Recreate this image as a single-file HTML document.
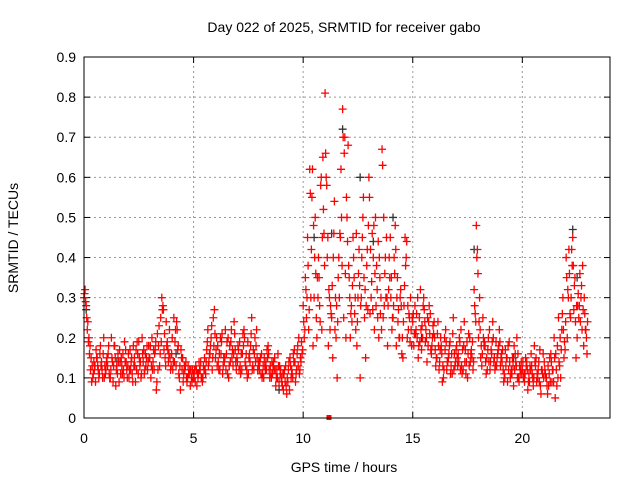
<!DOCTYPE html>
<html><head><meta charset="utf-8"><style>
body{margin:0;background:#fff}
svg{display:block;font-family:"Liberation Sans",sans-serif}
</style></head><body>
<svg id="chart" width="640" height="480">
<text x="344" y="32" font-size="14" text-anchor="middle">Day 022 of 2025, SRMTID for receiver gabo</text>
<text x="344" y="472" font-size="14" text-anchor="middle">GPS time / hours</text>
<text transform="translate(18,238) rotate(-90)" font-size="14" text-anchor="middle">SRMTID / TECUs</text>
<g id="grid"></g><g id="axes"></g><g id="marks"></g>
<rect x="84" y="57" width="526" height="361" fill="none" stroke="#000" stroke-width="1"/>
</svg>
<script>
const xTicks=[0,5,10,15,20];
const yTicks=[0,0.1,0.2,0.3,0.4,0.5,0.6,0.7,0.8,0.9];
const yTickLabels=["0","0.1","0.2","0.3","0.4","0.5","0.6","0.7","0.8","0.9"];
const times=[0,0.1,0.2,0.3,0.4,0.5,0.6,0.7,0.8,0.9,1,1.1,1.2,1.3,1.4,1.5,1.6,1.7,1.8,1.9,2,2.1,2.2,2.3,2.4,2.5,2.6,2.7,2.8,2.9,3,3.1,3.2,3.3,3.4,3.5,3.6,3.7,3.8,3.9,4,4.1,4.2,4.3,4.4,4.5,4.6,4.7,4.8,4.9,5,5.1,5.2,5.3,5.4,5.5,5.6,5.7,5.8,5.9,6,6.1,6.2,6.3,6.4,6.5,6.6,6.7,6.8,6.9,7,7.1,7.2,7.3,7.4,7.5,7.6,7.7,7.8,7.9,8,8.1,8.2,8.3,8.4,8.5,8.6,8.7,8.8,8.9,9,9.1,9.2,9.3,9.4,9.5,9.6,9.7,9.8,9.9,10,10.1,10.2,10.3,10.4,10.5,10.6,10.7,10.8,10.9,11,11.1,11.2,11.3,11.4,11.5,11.6,11.7,11.8,11.9,12,12.1,12.2,12.3,12.4,12.5,12.6,12.7,12.8,12.9,13,13.1,13.2,13.3,13.4,13.5,13.6,13.7,13.8,13.9,14,14.1,14.2,14.3,14.4,14.5,14.6,14.7,14.8,14.9,15,15.1,15.2,15.3,15.4,15.5,15.6,15.7,15.8,15.9,16,16.1,16.2,16.3,16.4,16.5,16.6,16.7,16.8,16.9,17,17.1,17.2,17.3,17.4,17.5,17.6,17.7,17.8,17.9,18,18.1,18.2,18.3,18.4,18.5,18.6,18.7,18.8,18.9,19,19.1,19.2,19.3,19.4,19.5,19.6,19.7,19.8,19.9,20,20.1,20.2,20.3,20.4,20.5,20.6,20.7,20.8,20.9,21,21.1,21.2,21.3,21.4,21.5,21.6,21.7,21.8,21.9,22,22.1,22.2,22.3,22.4,22.5,22.6,22.7,22.8,22.9];
const srmtidA=[.30,.28,.19,.12,.10,.13,.15,.11,.14,.20,.12,.16,.10,.14,.18,.13,.09,.15,.12,.17,.13,.17,.11,.15,.12,.19,.10,.14,.16,.12,.15,.20,.12,.07,.18,.25,.28,.15,.19,.22,.16,.25,.13,.18,.07,.15,.12,.09,.11,.10,.11,.13,.10,.12,.09,.15,.17,.14,.20,.25,.15,.18,.12,.21,.14,.16,.10,.19,.13,.17,.14,.19,.12,.22,.16,.11,.18,.13,.20,.15,.12,.16,.10,.14,.18,.13,.11,.15,.12,.09,.10,.07,.13,.09,.15,.11,.17,.12,.20,.14,.28,.35,.45,.62,.55,.30,.25,.40,.58,.65,.81,.40,.30,.25,.46,.20,.35,.45,.77,.70,.50,.35,.28,.40,.22,.30,.10,.45,.25,.38,.60,.30,.40,.50,.25,.35,.67,.28,.45,.32,.30,.25,.48,.35,.20,.16,.28,.40,.22,.30,.24,.28,.20,.25,.17,.30,.22,.18,.26,.20,.20,.15,.12,.18,.10,.22,.14,.19,.11,.16,.18,.14,.22,.12,.17,.10,.20,.15,.32,.48,.20,.15,.25,.18,.12,.22,.16,.14,.19,.17,.13,.17,.10,.15,.19,.12,.08,.14,.16,.11,.12,.09,.14,.11,.16,.08,.13,.10,.17,.12,.14,.10,.08,.16,.12,.05,.18,.13,.22,.15,.40,.30,.25,.45,.35,.20,.28,.33,.18,.22];
const srmtidB=[.32,.22,.16,.09,.14,.17,.12,.18,.10,.13,.15,.11,.20,.13,.08,.16,.14,.11,.19,.12,.10,.14,.18,.09,.16,.13,.20,.11,.15,.18,.10,.14,.17,.21,.13,.30,.17,.24,.14,.12,.12,.19,.22,.10,.15,.11,.14,.13,.08,.12,.12,.08,.14,.10,.13,.11,.22,.16,.12,.27,.20,.12,.16,.13,.22,.11,.18,.15,.24,.12,.17,.11,.21,.14,.10,.16,.25,.12,.18,.13,.15,.11,.13,.17,.12,.10,.14,.08,.16,.11,.08,.12,.06,.14,.10,.16,.09,.18,.12,.16,.20,.25,.22,.30,.18,.50,.35,.28,.22,.46,.60,.18,.28,.15,.22,.10,.30,.50,.25,.20,.68,.20,.33,.26,.18,.42,.30,.55,.15,.27,.26,.46,.22,.38,.20,.30,.25,.40,.18,.35,.22,.40,.18,.27,.32,.15,.45,.20,.25,.18,.18,.22,.15,.32,.20,.24,.14,.28,.16,.21,.13,.24,.17,.09,.20,.12,.16,.13,.25,.14,.13,.19,.11,.24,.14,.21,.16,.12,.26,.42,.30,.13,.18,.11,.20,.14,.24,.12,.15,.22,.16,.09,.13,.18,.10,.15,.12,.20,.09,.14,.10,.15,.07,.13,.11,.18,.09,.14,.06,.16,.11,.06,.15,.09,.20,.12,.25,.10,.30,.17,.20,.36,.42,.27,.15,.31,.24,.38,.26,.16];
const srmtidC=[.31,.25,.20,.15,.11,.09,.13,.16,.12,.10,.14,.18,.12,.09,.15,.11,.17,.13,.10,.14,.16,.12,.09,.13,.19,.15,.11,.17,.13,.14,.18,.12,.16,.09,.23,.19,.27,.13,.17,.15,.20,.14,.24,.11,.17,.09,.13,.10,.12,.09,.10,.12,.11,.14,.10,.12,.19,.16,.23,.18,.17,.14,.20,.11,.15,.19,.13,.22,.16,.14,.18,.13,.16,.20,.12,.15,.21,.17,.14,.12,.14,.10,.15,.12,.16,.11,.13,.12,.10,.13,.09,.11,.08,.12,.13,.10,.14,.16,.11,.19,.24,.32,.38,.56,.62,.40,.20,.35,.60,.52,.66,.45,.22,.33,.54,.28,.40,.62,.70,.36,.44,.30,.24,.35,.46,.36,.28,.50,.32,.42,.55,.34,.48,.28,.44,.26,.63,.36,.30,.40,.35,.28,.42,.24,.30,.20,.33,.44,.26,.22,.26,.21,.30,.19,.23,.27,.20,.24,.17,.23,.17,.21,.14,.16,.12,.19,.15,.11,.21,.13,.15,.20,.13,.18,.11,.16,.14,.19,.28,.40,.24,.18,.20,.14,.17,.12,.19,.15,.13,.18,.15,.12,.17,.09,.14,.11,.18,.13,.10,.12,.14,.11,.12,.09,.13,.10,.15,.12,.08,.11,.12,.08,.11,.14,.09,.16,.10,.20,.26,.19,.35,.42,.30,.38,.24,.28,.36,.22,.30,.20];
const srmtidD=[.29,.24,.18,.13,.12,.15,.10,.13,.16,.11,.13,.10,.15,.18,.12,.14,.11,.16,.14,.10,.12,.15,.13,.17,.11,.14,.16,.12,.18,.15,.13,.17,.19,.12,.16,.27,.21,.18,.16,.13,.14,.22,.17,.13,.12,.13,.10,.11,.12,.10,.09,.11,.12,.10,.12,.14,.13,.18,.15,.21,.13,.16,.19,.15,.12,.20,.14,.17,.21,.15,.12,.16,.18,.13,.19,.14,.12,.16,.22,.14,.11,.13,.12,.15,.10,.14,.12,.10,.13,.12,.11,.09,.10,.07,.12,.14,.11,.13,.15,.17,.22,.30,.27,.42,.48,.36,.30,.24,.45,.38,.58,.32,.26,.40,.30,.24,.46,.38,.66,.55,.38,.26,.45,.30,.24,.33,.40,.35,.28,.48,.42,.27,.36,.32,.40,.22,.50,.30,.28,.45,.25,.36,.30,.20,.28,.24,.38,.28,.19,.25,.21,.26,.18,.22,.28,.19,.25,.21,.18,.24,.15,.18,.20,.13,.17,.14,.18,.16,.12,.17,.16,.12,.17,.14,.19,.13,.17,.14,.24,.36,.22,.16,.19,.15,.14,.17,.20,.13,.16,.19,.14,.11,.15,.12,.11,.13,.16,.10,.13,.11,.11,.13,.09,.12,.10,.14,.11,.09,.12,.10,.10,.13,.09,.12,.15,.08,.14,.17,.22,.24,.32,.26,.38,.33,.28,.25,.30,.27,.22,.24];
const darkTimes=[0.1,1.5,4.2,8.9,10.5,11.3,11.8,12.6,13.2,14.1,15.4,17.8,19.6,22.3,22.5];
const darkVals=[.27,.14,.16,.07,.45,.46,.72,.60,.44,.50,.20,.42,.15,.47,.35];
const gapTimes=[11.2];
const gapVals=[0];
const NS="http://www.w3.org/2000/svg";
const X0=84,X1=610,Y0=418,Y1=57;
const xs=t=>X0+(t/24)*(X1-X0);
const ys=v=>Y0-(v/0.9)*(Y0-Y1);
function mk(tag,attrs,parent){const e=document.createElementNS(NS,tag);for(const k in attrs)e.setAttribute(k,attrs[k]);parent.appendChild(e);return e;}
const grid=document.getElementById('grid'),axes=document.getElementById('axes'),marks=document.getElementById('marks');
xTicks.forEach(t=>{
 const x=xs(t);
 if(t>0){const g=mk('line',{x1:x,x2:x,y1:Y0,y2:Y1,stroke:'#999','stroke-dasharray':'2,3'},grid);
 
 }
 mk('line',{x1:x,x2:x,y1:Y0,y2:Y0-6,stroke:'#000'},axes);
 mk('line',{x1:x,x2:x,y1:Y1,y2:Y1+6,stroke:'#000'},axes);
 const l=mk('text',{x:x,y:443,'font-size':14,'text-anchor':'middle'},axes);l.textContent=t;
 
 
});
yTicks.forEach((v,i)=>{
 const y=ys(v);
 if(i>0&&i<yTicks.length-1){const g=mk('line',{x1:X0,x2:X1,y1:y,y2:y,stroke:'#999','stroke-dasharray':'2,3'},grid);
 
 }
 mk('line',{x1:X0,x2:X0+6,y1:y,y2:y,stroke:'#000'},axes);
 mk('line',{x1:X1,x2:X1-6,y1:y,y2:y,stroke:'#000'},axes);
 const l=mk('text',{x:76,y:y+5,'font-size':14,'text-anchor':'end'},axes);l.textContent=yTickLabels[i];
 
 
});
function plus(t,v,c,name){
 const x=xs(t),y=ys(v);
 const p=mk('path',{d:`M${x-4},${y}h8M${x},${y-4}v8`,stroke:c,'stroke-width':1.3,fill:'none'},marks);
 
 
}
darkTimes.forEach((t,i)=>plus(t,darkVals[i],'#333','dark-point'));
times.forEach((t,i)=>{
 plus(t,srmtidA[i],'#f00','srmtid-point');
 plus(t+0.025,srmtidC[i],'#f00','srmtid-point');
 plus(t+0.05,srmtidB[i],'#f00','srmtid-point');
 plus(t+0.075,srmtidD[i],'#f00','srmtid-point');
});
gapTimes.forEach((t,i)=>{const r=mk('rect',{x:xs(t)-3,y:ys(gapVals[i])-3,width:5,height:5,fill:'#f00'},marks);
 
 });
</script>
</body></html>
